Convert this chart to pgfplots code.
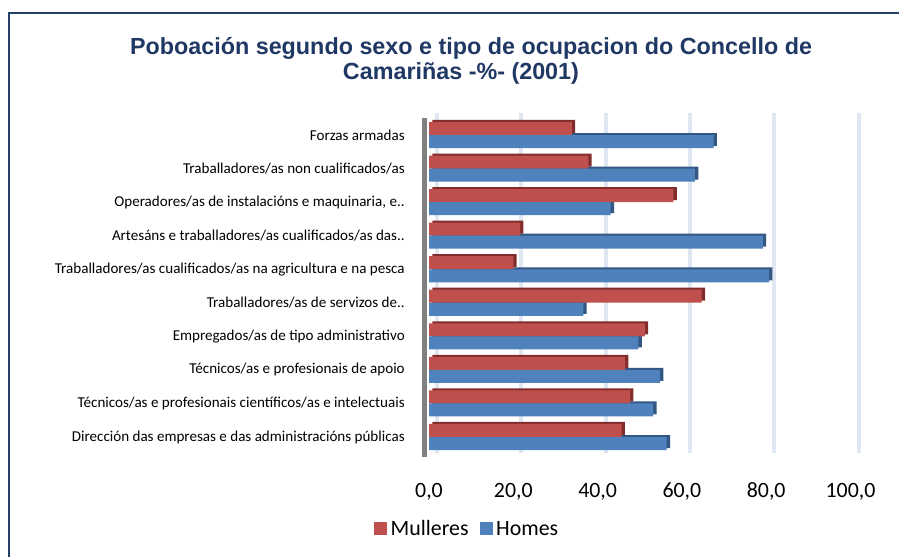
\documentclass[border=0pt]{standalone}
\usepackage{pgfplots}
\pgfplotsset{compat=1.18}
\usepackage{fontspec}
\setmainfont{Carlito}
\newfontfamily\titlefont{Liberation Sans}
\definecolor{mred}{RGB}{192,80,77}
\definecolor{mblue}{RGB}{79,129,189}
\definecolor{mredD}{RGB}{130,45,43}
\definecolor{mblueD}{RGB}{52,86,130}
\definecolor{navy}{RGB}{31,56,100}
\definecolor{framec}{RGB}{36,64,105}
\definecolor{gridc}{RGB}{222,231,242}
\pgfplotstableread{
y mull homes
0 45.7 56.4
1 47.7 53.2
2 46.5 54.8
3 51.2 49.7
4 64.7 36.6
5 20.0 80.7
6 21.6 79.2
7 58.0 43.1
8 37.8 63.1
9 33.9 67.5
}\datatable
\begin{document}
\begin{tikzpicture}
\path[use as bounding box] (0pt,0pt) rectangle (674.25pt,417.75pt);
% frame
\draw[framec, line width=1.5pt] (6.75pt,0pt) -- (6.75pt,408pt) -- (674.25pt,408pt);
% title
\node[font=\titlefont\bfseries\fontsize{17.5}{20}\selectfont, text=navy] at (353.25pt,381.75pt) {Poboación segundo sexo e tipo de ocupacion do Concello de};
\node[font=\titlefont\bfseries\fontsize{17.5}{20}\selectfont, text=navy] at (345.75pt,363pt) {Camariñas -\%- (2001)};
\begin{axis}[
  at={(321.75pt,78pt)}, anchor=south west,
  scale only axis,
  width=316.125pt, height=255pt,
  xmin=0, xmax=100,
  ymin=-0.477, ymax=9.656,
  clip=false,
  xbar, bar width=9.75pt,
  axis line style={draw=none},
  tick style={draw=none},
  major tick length=0pt,
  xmajorgrids,
  major grid style={line width=3pt, draw=gridc, xshift=6pt},
  xtick={0,20,40,60,80,100},
  xticklabels={{0,0},{20,0},{40,0},{60,0},{80,0},{100,0}},
  xticklabel style={font=\fontsize{16.4}{19}\selectfont, anchor=base, yshift=-33pt},
  ytick={0,...,9},
  yticklabels={
    Dirección das empresas e das administracións públicas,
    Técnicos/as e profesionais científicos/as e intelectuais,
    Técnicos/as e profesionais de apoio,
    Empregados/as de tipo administrativo,
    Traballadores/as de servizos de..,
    Traballadores/as cualificados/as na agricultura e na pesca,
    Artesáns e traballadores/as cualificados/as das..,
    Operadores/as de instalacións e maquinaria{,} e..,
    Traballadores/as non cualificados/as,
    Forzas armadas},
  yticklabel style={font=\fontsize{11.3}{13}\selectfont, anchor=east, inner sep=0pt, xshift=-18pt},
  legend style={at={(axis description cs:0.0925,-0.2235)}, anchor=center, draw=none, fill=none,
    font=\fontsize{16.4}{19}\selectfont, legend columns=2,
    nodes={inner xsep=2.5pt},
    /tikz/every even column/.append style={column sep=6pt}},
  legend image code/.code={\fill[#1] (0pt,-4.875pt) rectangle (9.75pt,4.875pt);},
]
% 3D depth (same data, darker, offset)
\addplot[forget plot, fill=mredD, draw=none, bar shift=4.9pt, xshift=2.5pt, yshift=1.5pt] table[x=mull, y=y] {\datatable};
\addplot[forget plot, fill=mblueD, draw=none, bar shift=-4.9pt, xshift=2.5pt, yshift=1.5pt] table[x=homes, y=y] {\datatable};
\addplot[fill=mred, draw=none, bar shift=4.9pt] table[x=mull, y=y] {\datatable};
\addlegendentry{Mulleres}
\addplot[fill=mblue, draw=none, bar shift=-4.9pt] table[x=homes, y=y] {\datatable};
\addlegendentry{Homes}
\end{axis}
% left wall
\draw[line width=3.75pt, color={rgb,255:red,128;green,128;blue,128}] (318pt,75pt) -- (318pt,329.25pt);
\end{tikzpicture}
\end{document}
